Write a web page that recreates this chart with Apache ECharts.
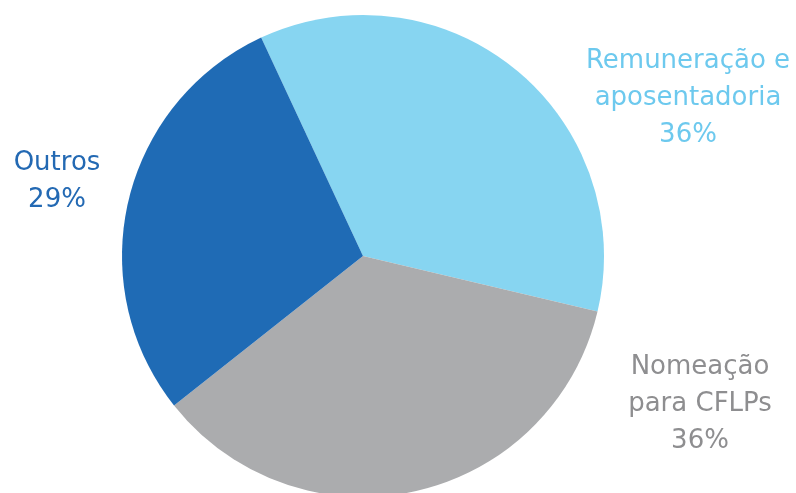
<!DOCTYPE html>
<html><head><meta charset="utf-8">
<script src="https://cdn.jsdelivr.net/npm/echarts@6/dist/echarts.min.js"></script>
<style>html,body{margin:0;background:#fff}#c{width:796px;height:493px}</style>
</head><body><div id="c"></div>
<script>
// shares of the pie, clockwise from the top-left boundary
const names = ['Remuneração e\naposentadoria', 'Nomeação\npara CFLPs', 'Outros'];
const values = [36, 36, 29];
const sliceColors = ['#87D5F1', '#ABACAE', '#1F6BB5'];
const labelColors = ['#6DC9EE', '#8E8E90', '#2369B3'];
// label anchor points (centre of each text block)
const labelPos = [[688, 98], [700, 404], [57, 182]];

const chart = echarts.init(document.getElementById('c'), null, {renderer: 'canvas'});
chart.setOption({
  animation: false,
  series: [{
    type: 'pie',
    center: [363, 256],
    radius: 241,
    startAngle: 115,
    clockwise: true,
    silent: true,
    data: names.map((n, i) => ({
      name: n, value: values[i],
      itemStyle: {color: sliceColors[i]},
      label: {color: labelColors[i]}
    })),
    itemStyle: {borderWidth: 0},
    label: {
      position: 'outside',
      formatter: p => p.name + '\n' + p.value + '%',
      fontFamily: 'DejaVu Sans',
      fontSize: 26,
      lineHeight: 37,
      align: 'center',
      overflow: 'none'
    },
    labelLine: {show: false},
    labelLayout: p => ({
      x: labelPos[p.dataIndex][0],
      y: labelPos[p.dataIndex][1],
      align: 'center',
      verticalAlign: 'middle'
    })
  }]
});
</script></body></html>
